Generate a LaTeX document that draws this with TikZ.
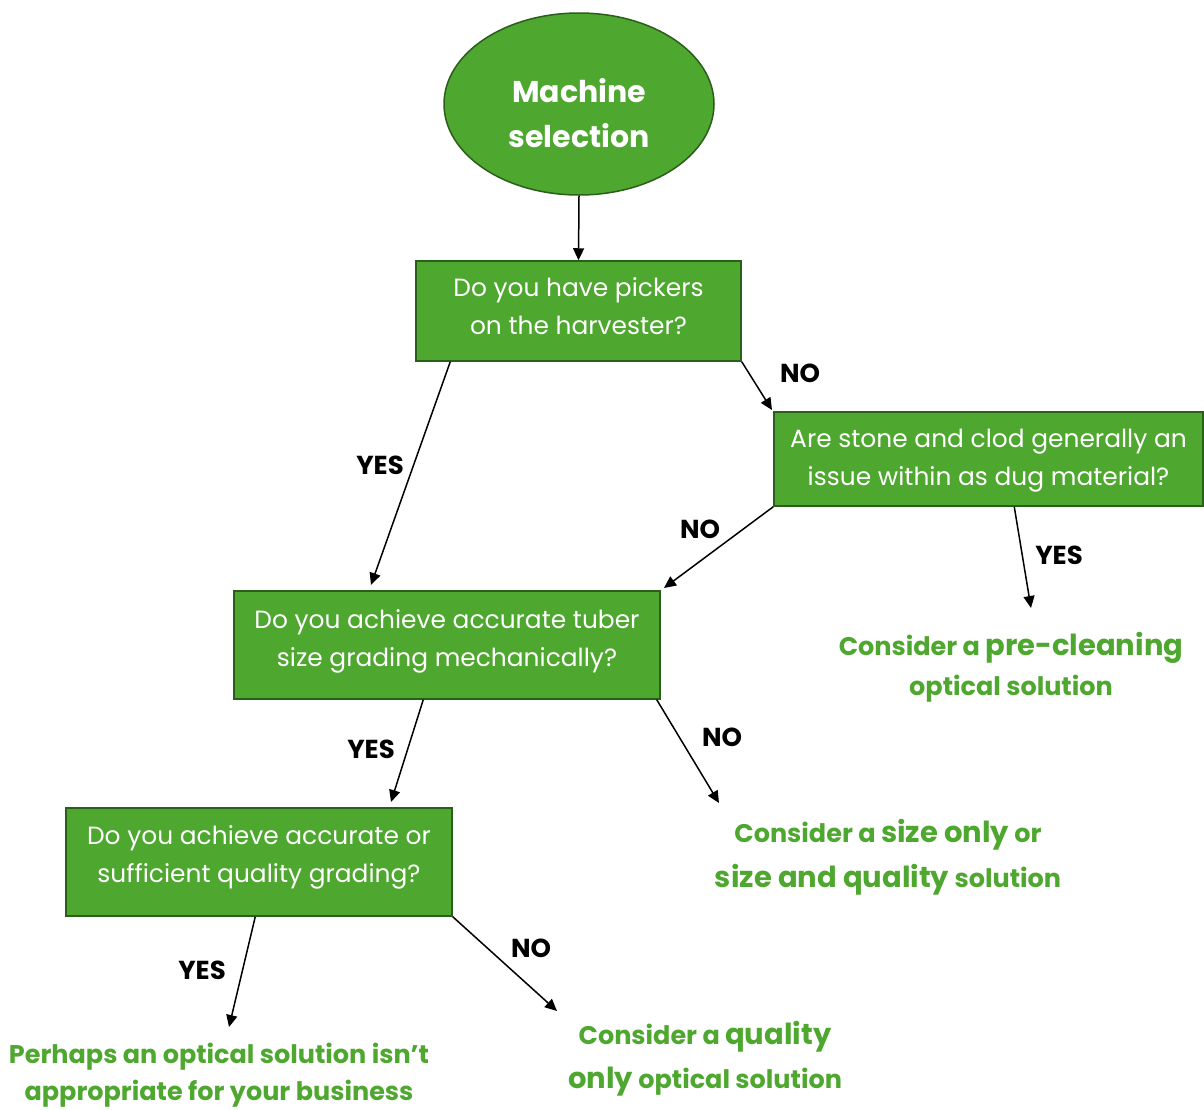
\documentclass[tikz,border=0pt]{standalone}
\usepackage{fontspec}
\setmainfont{Poppins}
\usetikzlibrary{shapes.geometric,arrows.meta}
\definecolor{gfill}{HTML}{4EA72E}
\definecolor{gline}{HTML}{2B5E1A}
\definecolor{gtext}{HTML}{4EA72E}
\newcommand{\qtext}[2]{\raisebox{#1}[0pt][0pt]{\begin{tabular}[c]{@{}c@{}}#2\end{tabular}}}
\tikzset{
  qbox/.style={draw=gline,line width=1.5pt,fill=gfill,text=white,inner sep=0pt,
    font=\fontsize{24.9}{38}\selectfont},
  startnode/.style={ellipse,draw=gline,line width=1.5pt,fill=gfill,text=white,inner sep=0pt,
    minimum width=270pt,minimum height=182pt,font=\fontsize{30}{45}\selectfont\bfseries},
  arr/.style={-{Triangle[length=12pt,width=11pt]},line width=1.5pt,black},
  lbl/.style={font=\fontsize{26}{30}\selectfont\bfseries,text=black,inner sep=0pt},
  outc/.style={text=gtext,align=center,inner sep=0pt,font=\fontsize{25.5}{40}\selectfont\bfseries},
}
\newcommand{\bigw}[1]{{\fontsize{29}{40}\selectfont #1}}
\begin{document}
\begin{tikzpicture}[x=1pt,y=-1pt]
\useasboundingbox (0,0) rectangle (1204,1109);
\node[startnode] (ms) at (579,104) {\qtext{-18pt}{Machine\\selection}};
\node[qbox,minimum width=325pt,minimum height=100pt] (b1) at (578.5,311) {\qtext{-3.5pt}{Do you have pickers\\on the harvester?}};
\node[qbox,minimum width=429pt,minimum height=94pt] (b2) at (988.5,459) {\qtext{-6.5pt}{Are stone and clod generally an\\issue within as dug material?}};
\node[qbox,minimum width=426pt,minimum height=108pt] (b3) at (447,645) {\qtext{-1pt}{Do you achieve accurate tuber\\size grading mechanically?}};
\node[qbox,minimum width=386pt,minimum height=108pt] (b4) at (259,862) {\qtext{0pt}{Do you achieve accurate or\\sufficient quality grading?}};

\node[outc] (o1) at (1011,667) {Consider a \bigw{pre-cleaning}\\optical solution};
\node[outc,font=\fontsize{25.5}{45}\selectfont\bfseries] (o2) at (888,857) {Consider a \bigw{size only} or\\\bigw{size and quality} solution};
\node[outc,font=\fontsize{25.5}{37}\selectfont\bfseries] (o3) at (219,1075) {Perhaps an optical solution isn’t\\appropriate for your business};
\node[outc,font=\fontsize{25.5}{44}\selectfont\bfseries] (o4) at (705,1059) {Consider a \bigw{quality}\\\bigw{only} optical solution};

\coordinate (t1) at (371,585);
\coordinate (t2) at (772,410);
\coordinate (t3) at (664,588);
\coordinate (t4) at (1031,608);
\coordinate (t5) at (391,802);
\coordinate (t6) at (719,803);
\coordinate (t7) at (229,1027);
\coordinate (t8) at (557,1011);

\draw[arr] (ms.south) -- (b1.north);
\draw[arr] ([xshift=35pt]b1.south west) -- (t1);
\draw[arr] (b1.south east) -- (t2);
\draw[arr] (b2.south west) -- (t3);
\draw[arr] ([xshift=241pt]b2.south west) -- (t4);
\draw[arr] ([xshift=190pt]b3.south west) -- (t5);
\draw[arr] ([xshift=-4pt]b3.south east) -- (t6);
\draw[arr] ([xshift=190pt]b4.south west) -- (t7);
\draw[arr] (b4.south east) -- (t8);

\node[lbl] (l1) at (380,465) {YES};
\node[lbl] (l2) at (800,373) {NO};
\node[lbl] (l3) at (700,529) {NO};
\node[lbl] (l4) at (1059,555) {YES};
\node[lbl] (l5) at (371,749) {YES};
\node[lbl] (l6) at (722,737) {NO};
\node[lbl] (l7) at (202,970) {YES};
\node[lbl] (l8) at (531,948) {NO};
\end{tikzpicture}
\end{document}
